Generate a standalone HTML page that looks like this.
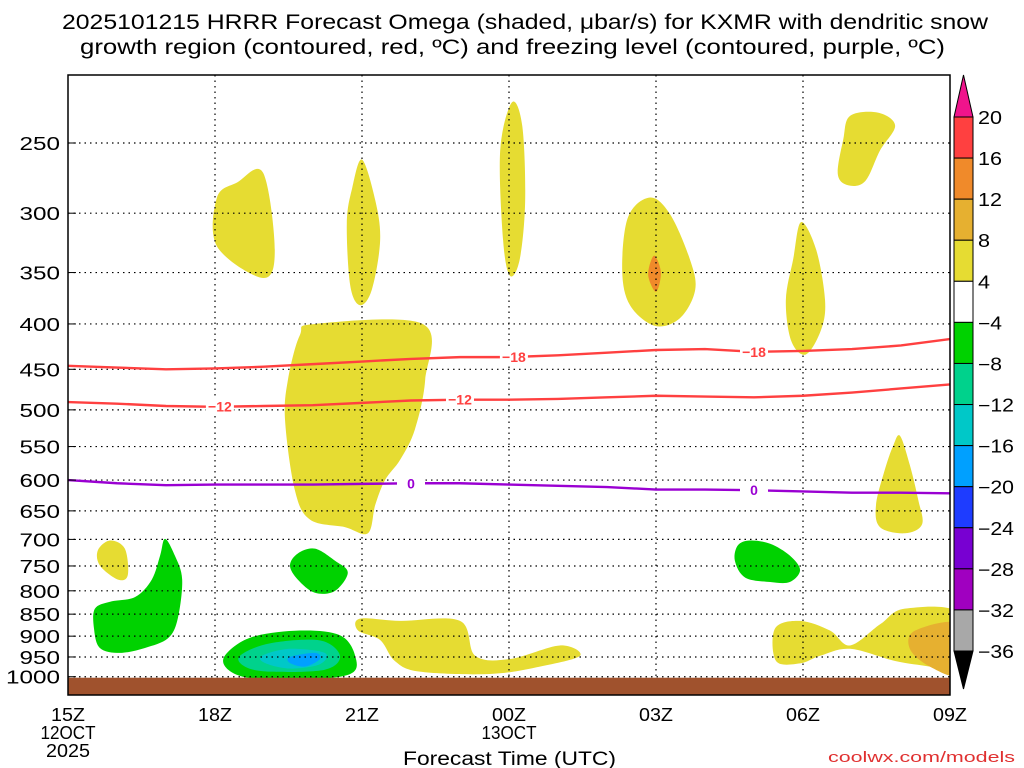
<!DOCTYPE html>
<html><head><meta charset="utf-8"><style>
body{margin:0;background:#fff;}
svg{display:block;font-family:"Liberation Sans",sans-serif;}
</style></head><body>
<svg id="c" width="1024" height="768">
<text x="62" y="29" textLength="926" lengthAdjust="spacingAndGlyphs" font-size="21">2025101215 HRRR Forecast Omega (shaded, μbar/s) for KXMR with dendritic snow</text>
<text x="80" y="54" textLength="865" lengthAdjust="spacingAndGlyphs" font-size="21">growth region (contoured, red, ºC) and freezing level (contoured, purple, ºC)</text>
<g id="plot"></g>
<text x="403" y="765" textLength="213" lengthAdjust="spacingAndGlyphs" font-size="19">Forecast Time (UTC)</text>
<text x="828" y="762" textLength="187" lengthAdjust="spacingAndGlyphs" font-size="15" fill="#e03030">coolwx.com/models</text>
</svg>
<script>
const levels=[250,300,350,400,450,500,550,600,650,700,750,800,850,900,950,1000];
const xTicks=[0,3,6,9,12,15,18];
const xTickLabels=["15Z","18Z","21Z","00Z","03Z","06Z","09Z"];
const hours=[0,1,2,3,4,5,6,7,8,9,10,11,12,13,14,15,16,17,18];
const line18=[446,448,450,449,447,444,441,438,436,436,434,431,428,427,430,429,427,423,416];
const line12=[490,492,495,496,495,494,491,488,487,487,486,484,482,483,484,482,478,473,468];
const line0=[600,605,608,607,607,607,606,605,605,607,609,611,615,615,616,618,620,620,621];
const cbValues=[20,16,12,8,4,-4,-8,-12,-16,-20,-24,-28,-32,-36];
const cbColors=["#ff4040","#f08a2a","#e6b030","#e6dc32","#ffffff","#00d200","#00d28c","#00c8c8","#00a0ff","#1e3cff","#7800d2","#a000c0","#a8a8a8"];
const Y="#e6dc32",O="#e6b030",G="#00d200",T="#00d28c",C="#00c8c8",B="#00a0ff",OR="#f08a2a";
const blobs=[
{c:Y,p:[[3.04,288],[3.45,277],[3.98,270],[4.22,330],[3.98,355],[3.04,327]]},
{c:Y,p:[[6.0,261],[6.27,290],[6.37,322],[6.2,366],[5.96,381],[5.76,362],[5.69,308],[5.8,281]]},
{c:Y,p:[[9.06,225],[9.27,239],[9.33,290],[9.22,338],[9.02,353],[8.88,322],[8.82,255]]},
{c:Y,p:[[11.88,288],[12.29,301],[12.69,338],[12.8,366],[12.49,394],[11.98,402],[11.47,381],[11.31,348],[11.43,303]]},
{c:OR,p:[[11.96,335],[12.1,350],[12.0,368],[11.84,352]]},
{c:Y,p:[[14.96,307],[15.27,330],[15.45,376],[15.37,406],[15.06,433],[14.76,418],[14.65,376],[14.8,338]]},
{c:Y,p:[[15.96,233],[16.53,231],[16.88,239],[16.57,255],[16.27,276],[15.92,279],[15.71,271],[15.82,248]]},
{c:Y,p:[[5.04,400],[7.24,400],[7.29,462],[7.08,526],[6.78,569],[6.47,600],[6.27,640],[6.12,689],[5.65,678],[4.94,665],[4.63,616],[4.43,514],[4.49,462],[4.73,412]]},
{c:Y,p:[[16.98,535],[17.18,577],[17.35,631],[17.43,673],[17.08,689],[16.57,678],[16.49,640],[16.67,584],[16.84,549]]},
{c:Y,p:[[0.86,702],[1.16,717],[1.22,768],[1.02,777],[0.65,749],[0.61,720]]},
{c:G,p:[[1.98,699],[2.18,730],[2.33,777],[2.24,860],[2.04,905],[1.57,928],[1.06,940],[0.65,928],[0.53,882],[0.55,838],[0.86,823],[1.37,813],[1.71,777],[1.88,730]]},
{c:G,p:[[5.04,717],[5.45,740],[5.71,763],[5.45,800],[5.04,804],[4.69,777],[4.53,749],[4.69,726]]},
{c:G,p:[[13.92,702],[14.33,708],[14.73,730],[14.94,758],[14.73,782],[14.33,782],[13.82,773],[13.61,740],[13.67,711]]},
{c:G,p:[[3.2,947],[3.73,903],[4.73,887],[5.55,898],[5.86,947],[5.76,993],[4.73,1009],[3.73,1004],[3.27,982]]},
{c:T,p:[[3.51,947],[4.12,917],[5.14,910],[5.55,947],[5.24,982],[4.12,987],[3.61,974]]},
{c:C,p:[[3.96,947],[4.53,930],[5.24,940],[5.14,968],[4.53,979],[4.02,965]]},
{c:B,p:[[4.53,950],[5.04,940],[5.14,955],[4.84,974],[4.53,965]]},
{c:Y,p:[[5.96,860],[6.78,865],[8.0,865],[8.31,947],[9.02,955],[10.04,922],[10.45,947],[9.63,974],[8.61,993],[7.18,987],[6.67,960],[6.37,909],[5.92,887]]},
{c:Y,p:[[14.43,882],[14.94,865],[15.55,887],[15.96,922],[16.57,873],[17.08,838],[18.2,849],[18.2,987],[17.59,974],[16.88,960],[15.96,930],[15.35,947],[14.94,966],[14.45,960]]},
{c:O,p:[[17.29,887],[18.2,873],[18.2,993],[17.59,974],[17.18,930]]}
];
const L=68,R=950,TOP=75,BOT=695;
const xs=h=>L+h*(R-L)/18;
const ys=p=>143+385*Math.log(p/250);
const NS="http://www.w3.org/2000/svg";
const svg=document.getElementById('c'),plot=document.getElementById('plot');
function mk(tag,attrs,parent){const e=document.createElementNS(NS,tag);for(const k in attrs)e.setAttribute(k,attrs[k]);(parent||plot).appendChild(e);return e;}
function smooth(pts){const n=pts.length;let d=`M${pts[0][0]},${pts[0][1]}`;for(let i=0;i<n;i++){const p0=pts[(i-1+n)%n],p1=pts[i],p2=pts[(i+1)%n],p3=pts[(i+2)%n];d+=`C${p1[0]+(p2[0]-p0[0])/6},${p1[1]+(p2[1]-p0[1])/6} ${p2[0]-(p3[0]-p1[0])/6},${p2[1]-(p3[1]-p1[1])/6} ${p2[0]},${p2[1]}`;}return d+'Z';}
const defs=mk('defs',{});const cp=mk('clipPath',{id:'clip'},defs);mk('rect',{x:L,y:TOP,width:R-L,height:BOT-TOP},cp);
const g=mk('g',{'clip-path':'url(#clip)'});
blobs.forEach((b,i)=>{const e=mk('path',{d:smooth(b.p.map(q=>[xs(q[0]),ys(q[1])])),fill:b.c},g);

});
levels.forEach(p=>{const e=mk('line',{x1:L,x2:R,y1:ys(p),y2:ys(p),stroke:'#000','stroke-width':1.2,'stroke-dasharray':'1.5 4'},g);


const s=String(p);
const t=mk('text',{x:L-8-s.length*13.5,y:ys(p)+7,'font-size':18,textLength:s.length*13.5,lengthAdjust:'spacingAndGlyphs'});t.textContent=s;


mk('line',{x1:L,x2:L+8,y1:ys(p),y2:ys(p),stroke:'#000'});});
xTicks.forEach((h,i)=>{if(i>0&&i<6){const e=mk('line',{x1:xs(h),x2:xs(h),y1:TOP,y2:BOT,stroke:'#000','stroke-width':1.2,'stroke-dasharray':'1.5 4'},g);

}
const t=mk('text',{x:xs(h)-17,y:721,'font-size':18,textLength:34,lengthAdjust:'spacingAndGlyphs'});t.textContent=xTickLabels[i];

});
[["12OCT",xs(0),739],["2025",xs(0),757],["13OCT",xs(9),739]].forEach(a=>{const w=a[0].length*11;const t=mk('text',{x:a[1]-w/2,y:a[2],'font-size':18,textLength:w,lengthAdjust:'spacingAndGlyphs'});t.textContent=a[0];

});
const gr=mk('rect',{x:L,y:ys(1000)+1,width:R-L,height:BOT-ys(1000)-1,fill:'#a0522d'});


function contour(vals,color,name,labs){const d=hours.map((h,i)=>(i?'L':'M')+xs(h)+','+ys(vals[i])).join('');
const e=mk('path',{d,fill:'none',stroke:color,'stroke-width':2.4},g);


labs.forEach(l=>{const h=l[0],v=vals[Math.floor(h)]+(vals[Math.ceil(h)]-vals[Math.floor(h)])*(h-Math.floor(h));
mk('rect',{x:xs(h)-14,y:ys(v)-8,width:28,height:16,fill:'#fff'},g);
const t=mk('text',{x:xs(h),y:ys(v)+5,'text-anchor':'middle','font-size':14,'font-weight':'bold',fill:color},g);t.textContent=l[1];

});}
contour(line18,'#ff4040','contour-minus-18',[[9.1,'−18'],[14.0,'−18']]);
contour(line12,'#ff4040','contour-minus-12',[[3.1,'−12'],[8.0,'−12']]);
contour(line0,'#9a00d2','freezing-level',[[7.0,'0'],[14.0,'0']]);
const fr=mk('rect',{x:L,y:TOP,width:R-L,height:BOT-TOP,fill:'none',stroke:'#000','stroke-width':1.5});


const cx=954,cw=19,c0=117,ch=(651-117)/13;
mk('polygon',{points:`${cx},${c0} ${cx+cw},${c0} ${cx+cw/2},75`,fill:'#f0148c',stroke:'#000'});
mk('polygon',{points:`${cx},${c0+13*ch} ${cx+cw},${c0+13*ch} ${cx+cw/2},689`,fill:'#000',stroke:'#000'});
cbColors.forEach((c,i)=>{const e=mk('rect',{x:cx,y:c0+i*ch,width:cw,height:ch,fill:c,stroke:'#000'});

});
cbValues.forEach((v,i)=>{const s=v<0?'−'+(-v):String(v);const t=mk('text',{x:978,y:c0+i*ch+7,'font-size':18,textLength:s.length*12,lengthAdjust:'spacingAndGlyphs'});t.textContent=s;

});
</script>
</body></html>
